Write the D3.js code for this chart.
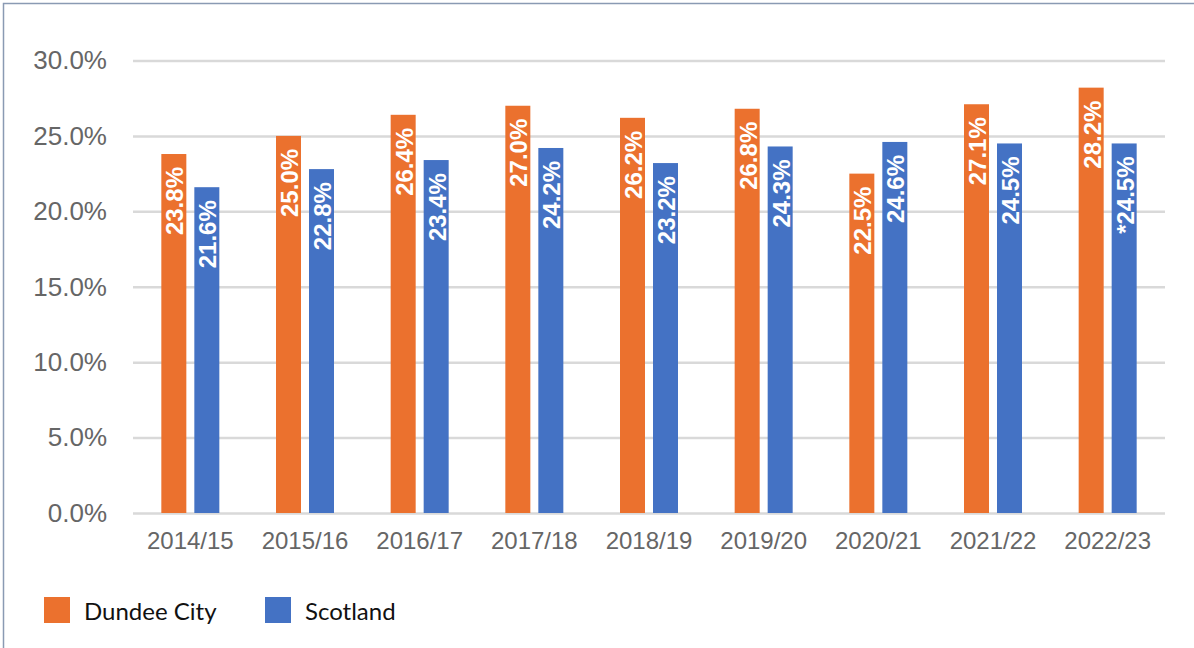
<!DOCTYPE html>
<html>
<head>
<meta charset="utf-8">
<script src="https://cdn.jsdelivr.net/npm/d3@7"></script>
<style>
  body { margin: 0; background: #fff; }
  svg { display: block; }
</style>
</head>
<body>
<svg width="1194" height="648"></svg>
<script>
// données
const years = ["2014/15", "2015/16", "2016/17", "2017/18", "2018/19", "2019/20", "2020/21", "2021/22", "2022/23"];
const dundee = [23.8, 25.0, 26.4, 27.0, 26.2, 26.8, 22.5, 27.1, 28.2];
const scotland = [21.6, 22.8, 23.4, 24.2, 23.2, 24.3, 24.6, 24.5, 24.5];
const scotlandLabels = ["21.6%", "22.8%", "23.4%", "24.2%", "23.2%", "24.3%", "24.6%", "24.5%", "*24.5%"];
const seriesNames = ["Dundee City", "Scotland"];
const colors = ["#EB712E", "#4472C4"];
const yTicks = [0, 5, 10, 15, 20, 25, 30];

const svg = d3.select("svg");

// cadre gris-bleu (haut et gauche)
svg.append("path")
    .attr("d", "M3.5,648 V3.5 H1194")
    .attr("fill", "none")
    .attr("stroke", "#8a9ab3")
    .attr("stroke-width", 1.5);

const plotLeft = 133, plotRight = 1165, plotTop = 60.5, plotBottom = 513;

const x = d3.scaleBand().domain(years).range([plotLeft, plotRight]);
const y = d3.scaleLinear().domain([0, 30]).range([plotBottom, plotTop]);

// axe y + grille
const yAxis = svg.append("g")
    .attr("transform", `translate(${plotLeft},0)`)
    .call(d3.axisLeft(y)
        .tickValues(yTicks)
        .tickFormat(d => d.toFixed(1) + "%")
        .tickSize(-(plotRight - plotLeft))
        .tickPadding(26));
yAxis.select(".domain").remove();
yAxis.selectAll(".tick line")
    .attr("stroke", "#d9d9d9")
    .attr("stroke-width", 2.5);
yAxis.selectAll(".tick text")
    .attr("fill", "#666")
    .attr("font-family", "'Liberation Sans', Arial, sans-serif")
    .attr("font-size", 26);

// axe x
const xAxis = svg.append("g")
    .attr("transform", `translate(0,${plotBottom})`)
    .call(d3.axisBottom(x).tickSize(0).tickPadding(19));
xAxis.select(".domain").remove();
xAxis.selectAll(".tick text")
    .attr("fill", "#666")
    .attr("font-family", "'Liberation Sans', Arial, sans-serif")
    .attr("font-size", 24);

// barres
const sub = d3.scaleBand().domain(seriesNames).range([0, 58]).paddingInner(8 / 33);

const rows = years.map((yr, i) => ({
    year: yr,
    values: [
        { name: seriesNames[0], v: dundee[i], label: dundee[i].toFixed(1) + "%" },
        { name: seriesNames[1], v: scotland[i], label: scotlandLabels[i] }
    ]
}));

const groups = svg.selectAll("g.grp")
    .data(rows)
    .enter()
    .append("g")
    .attr("class", "grp")
    .attr("transform", d => `translate(${x(d.year) + x.bandwidth() / 2 - 29},0)`);

groups.selectAll("rect")
    .data(d => d.values)
    .enter()
    .append("rect")
    .attr("x", d => sub(d.name))
    .attr("y", d => y(d.v))
    .attr("width", sub.bandwidth())
    .attr("height", d => plotBottom - y(d.v))
    .attr("fill", (d, i) => colors[i]);

groups.selectAll("text.val")
    .data(d => d.values)
    .enter()
    .append("text")
    .attr("class", "val")
    .attr("transform", d => `translate(${sub(d.name) + sub.bandwidth() / 2 + 1},${y(d.v) + 13}) rotate(-90)`)
    .attr("text-anchor", "end")
    .attr("dominant-baseline", "central")
    .attr("fill", "#fff")
    .attr("font-family", "'Liberation Sans', Arial, sans-serif")
    .attr("font-weight", "bold")
    .attr("font-size", 24)
    .text(d => d.label);

// légende
const legend = svg.append("g")
    .selectAll("g")
    .data(seriesNames)
    .enter()
    .append("g")
    .attr("transform", (d, i) => `translate(${[44, 265][i]},597)`);

legend.append("rect")
    .attr("width", 26)
    .attr("height", 26)
    .attr("fill", (d, i) => colors[i]);

legend.append("text")
    .attr("x", 40)
    .attr("y", 13)
    .attr("dominant-baseline", "central")
    .attr("fill", "#111")
    .attr("font-family", "Lato, 'Open Sans', sans-serif")
    .attr("font-size", 24)
    .text(d => d);
</script>
</body>
</html>
